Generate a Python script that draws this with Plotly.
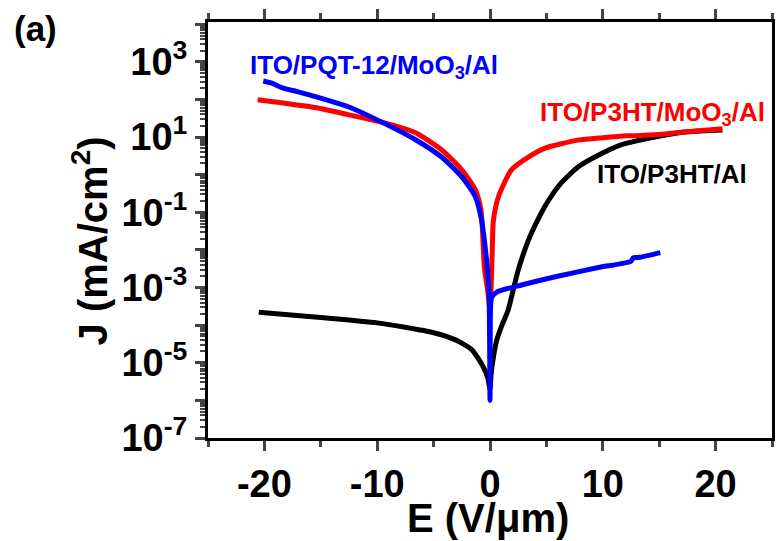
import plotly.graph_objects as go

# ---- data ----
E_black = [-20.5, -15.0, -10.0, -5.0, -3.0, -1.6, -0.6, -0.2, 0.0, 0.1, 0.3, 0.6, 1.0, 1.6, 2.5, 3.4, 4.2, 4.9, 5.6, 6.3, 7.8, 9.3, 11.6, 14.6, 17.5, 20.6]
J_black = [2.2e-4, 1.6e-4, 1.15e-4, 6.3e-5, 4.0e-5, 2.2e-5, 7.8e-6, 4.0e-6, 2.0e-6, 5.0e-6, 1.4e-5, 4.0e-5, 9.0e-5, 2.5e-4, 2.9e-3, 1.8e-2, 6.0e-2, 0.15, 0.32, 0.6, 1.6, 2.95, 6.2, 10.0, 13.8, 15.5]

E_red = [-20.6, -15.4, -12.5, -9.6, -6.6, -4.3, -2.5, -1.3, -0.8, -0.5, -0.2, 0.0, 0.1, 0.2, 0.3, 0.75, 1.9, 3.4, 4.9, 7.8, 10.0, 12.2, 14.6, 17.5, 20.6]
J_red = [98, 60, 39, 25, 13, 4.6, 1.35, 0.40, 0.115, 3.5e-3, 8.0e-4, 2.5e-4, 1.0e-3, 1.0e-2, 0.06, 0.26, 1.35, 2.95, 5.1, 8.3, 9.6, 10.8, 11.5, 13.8, 16.6]

E_blue = [-20.1, -19.4, -18.4, -17.0, -15.4, -12.5, -9.6, -6.6, -4.3, -2.5, -1.3, -0.75, -0.4, -0.1, 0.0, 0.05, 0.15, 0.6, 2.8, 6.0, 9.6, 12.5, 12.7, 13.0, 13.3, 15.1]
J_blue = [310, 275, 204, 160, 117, 63, 25, 8.5, 2.95, 0.87, 0.26, 0.063, 0.01, 1.0e-3, 1.0e-6, 3.0e-4, 5.5e-4, 7.6e-4, 1.17e-3, 2.0e-3, 3.4e-3, 5.0e-3, 6.2e-3, 6.3e-3, 6.4e-3, 8.5e-3]

x_ticks = [-20, -10, 0, 10, 20]
x_tick_text = ["-20", "-10", "0", "10", "20"]
y_tick_exps = [-7, -6, -5, -4, -3, -2, -1, 0, 1, 2, 3, 4]
y_label_exps = [-7, -5, -3, -1, 1, 3]

label_blue = "ITO/PQT-12/MoO<sub>3</sub>/Al"
label_red = "ITO/P3HT/MoO<sub>3</sub>/Al"
label_black = "ITO/P3HT/Al"
x_title = "E (V/μm)"
y_title = "J (mA/cm<sup>2</sup>)"

FONT = "Liberation Sans"

fig = go.Figure()
for E, J, col in [(E_black, J_black, "black"), (E_red, J_red, "#ff0000"), (E_blue, J_blue, "#0000ff")]:
    fig.add_trace(go.Scatter(x=E, y=J, mode="lines",
                             line=dict(color=col, width=5, shape="spline", smoothing=0.6),
                             showlegend=False))

yvals = [10.0 ** e for e in y_tick_exps]
ytext = [("10<sup>%d</sup>" % e) if e in y_label_exps else "" for e in y_tick_exps]

fig.update_layout(
    width=777, height=541,
    margin=dict(l=208, r=2, t=22, b=103),
    paper_bgcolor="white", plot_bgcolor="white",
    font=dict(family=FONT, color="black"),
    xaxis=dict(range=[-25, 25], tickvals=x_ticks, ticktext=x_tick_text,
               ticks="outside", ticklen=10, tickwidth=3,
               showline=True, linewidth=3, linecolor="black", mirror="ticks",
               showgrid=False, zeroline=False,
               tickfont=dict(family=FONT, size=38, weight="bold", color="black"),
               minor=dict(dtick=5, ticks="outside", ticklen=6, tickwidth=3, showgrid=False)),
    yaxis=dict(type="log", range=[-7, 4.06], tickvals=yvals, ticktext=ytext,
               ticks="outside", ticklen=10, tickwidth=3,
               showline=True, linewidth=3, linecolor="black", mirror=True,
               showgrid=False, zeroline=False,
               tickfont=dict(family=FONT, size=38, weight="bold", color="black"),
               minor=dict(dtick="D1", ticks="outside", ticklen=5, tickwidth=2, showgrid=False)),
)

def ann(text, x, y, color, size, angle=0):
    fig.add_annotation(text=text, x=x, y=y, xref="paper", yref="paper", showarrow=False,
                       xanchor="center", yanchor="middle", textangle=angle,
                       font=dict(family=FONT, size=size, weight="bold", color=color))

ann(label_blue, 0.294, 0.893, "#0000ff", 26)
ann(label_red, 0.788, 0.78, "#ff0000", 26)
ann(label_black, 0.823, 0.635, "black", 26)
ann("(a)", -0.306, 0.985, "black", 35)
ann(x_title, 0.497, -0.192, "black", 40)
ann(y_title, -0.21, 0.474, "black", 40, angle=-90)

fig.write_html("out.html")
